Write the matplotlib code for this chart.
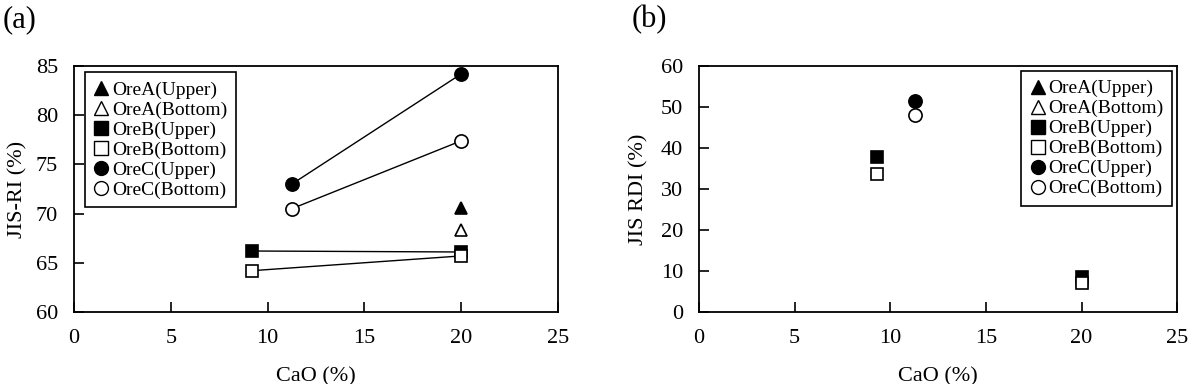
import matplotlib
matplotlib.use("Agg")
import matplotlib.pyplot as plt
from matplotlib.lines import Line2D

plt.rcParams['font.family'] = ['Liberation Serif', 'DejaVu Serif']

series_names = ["OreA(Upper)", "OreA(Bottom)", "OreB(Upper)", "OreB(Bottom)", "OreC(Upper)", "OreC(Bottom)"]

# Panel (a): JIS-RI
ri_cao = {
    "OreA(Upper)": [20.0],
    "OreA(Bottom)": [20.0],
    "OreB(Upper)": [9.2, 20.0],
    "OreB(Bottom)": [9.2, 20.0],
    "OreC(Upper)": [11.25, 20.0],
    "OreC(Bottom)": [11.25, 20.0],
}
ri_vals = {
    "OreA(Upper)": [70.6],
    "OreA(Bottom)": [68.3],
    "OreB(Upper)": [66.2, 66.1],
    "OreB(Bottom)": [64.2, 65.7],
    "OreC(Upper)": [73.0, 84.2],
    "OreC(Bottom)": [70.5, 77.4],
}

# Panel (b): JIS RDI
rdi_cao = {
    "OreA(Upper)": [20.0],
    "OreA(Bottom)": [20.0],
    "OreB(Upper)": [9.3, 20.0],
    "OreB(Bottom)": [9.3, 20.0],
    "OreC(Upper)": [11.3],
    "OreC(Bottom)": [11.3],
}
rdi_vals = {
    "OreA(Upper)": [8.0],
    "OreA(Bottom)": [7.5],
    "OreB(Upper)": [37.9, 8.6],
    "OreB(Bottom)": [33.6, 7.0],
    "OreC(Upper)": [51.5],
    "OreC(Bottom)": [48.0],
}

styles = {
    "OreA(Upper)": dict(marker='^', mfc='black'),
    "OreA(Bottom)": dict(marker='^', mfc='white'),
    "OreB(Upper)": dict(marker='s', mfc='black'),
    "OreB(Bottom)": dict(marker='s', mfc='white'),
    "OreC(Upper)": dict(marker='o', mfc='black'),
    "OreC(Bottom)": dict(marker='o', mfc='white'),
}
msize = {'^': 9, 's': 9, 'o': 9.5}

fig = plt.figure(figsize=(12, 3.84), dpi=100)
axa = fig.add_axes([0.0617, 0.1875, 0.4033, 0.6405])
axb = fig.add_axes([0.5825, 0.1875, 0.3985, 0.6405])

def style_axes(ax, ylim, yticks, ylabel, ylabelpad):
    ax.set_xlim(0, 25)
    ax.set_ylim(*ylim)
    ax.set_xticks([0, 5, 10, 15, 20, 25])
    ax.set_yticks(yticks)
    ax.tick_params(direction='in', length=7, width=1.2, labelsize=16)
    ax.tick_params(axis='x', pad=12)
    ax.tick_params(axis='y', pad=11.5)
    for s in ax.spines.values():
        s.set_linewidth(1.3)
    ax.set_xlabel("CaO (%)", fontsize=16, labelpad=14)
    ax.set_ylabel(ylabel, fontsize=16, labelpad=ylabelpad)

# Panel (a)
for name in series_names:
    st = styles[name]
    x = ri_cao[name]
    y = ri_vals[name]
    ls = '-' if len(x) > 1 else 'none'
    axa.plot(x, y, linestyle=ls, color='black', linewidth=1.0,
             marker=st['marker'], markerfacecolor=st['mfc'], markeredgecolor='black',
             markeredgewidth=1.2, markersize=msize[st['marker']], label=name, zorder=3)
style_axes(axa, (60, 85), [60, 65, 70, 75, 80, 85], "JIS-RI (%)", 6)

# Panel (b)
for name in series_names:
    st = styles[name]
    axb.plot(rdi_cao[name], rdi_vals[name], linestyle='none', color='black',
             marker=st['marker'], markerfacecolor=st['mfc'], markeredgecolor='black',
             markeredgewidth=1.2, markersize=msize[st['marker']], label=name, zorder=3)
style_axes(axb, (0, 60), [0, 10, 20, 30, 40, 50, 60], "JIS RDI (%)", 9)

def make_legend(ax, loc, anchor):
    hs = []
    for name in series_names:
        st = styles[name]
        hs.append(Line2D([], [], linestyle='none', marker=st['marker'], markerfacecolor=st['mfc'],
                         markeredgecolor='black', markeredgewidth=1.0, markersize=10))
    leg = ax.legend(hs, series_names, loc=loc, bbox_to_anchor=anchor, fontsize=14,
                    frameon=True, fancybox=False, edgecolor='black', framealpha=1,
                    handlelength=0.8, handletextpad=0.15, labelspacing=0.12,
                    borderpad=0.45, borderaxespad=0.0)
    leg.get_frame().set_linewidth(1.2)
    return leg

make_legend(axa, 'upper left', (0.022, 0.975))
make_legend(axb, 'upper right', (0.99, 0.98))

fig.text(0.002, 0.948, "(a)", fontsize=22, ha='left', va='center')
fig.text(0.526, 0.948, "(b)", fontsize=22, ha='left', va='center')

fig.savefig("out.png", dpi=100)
